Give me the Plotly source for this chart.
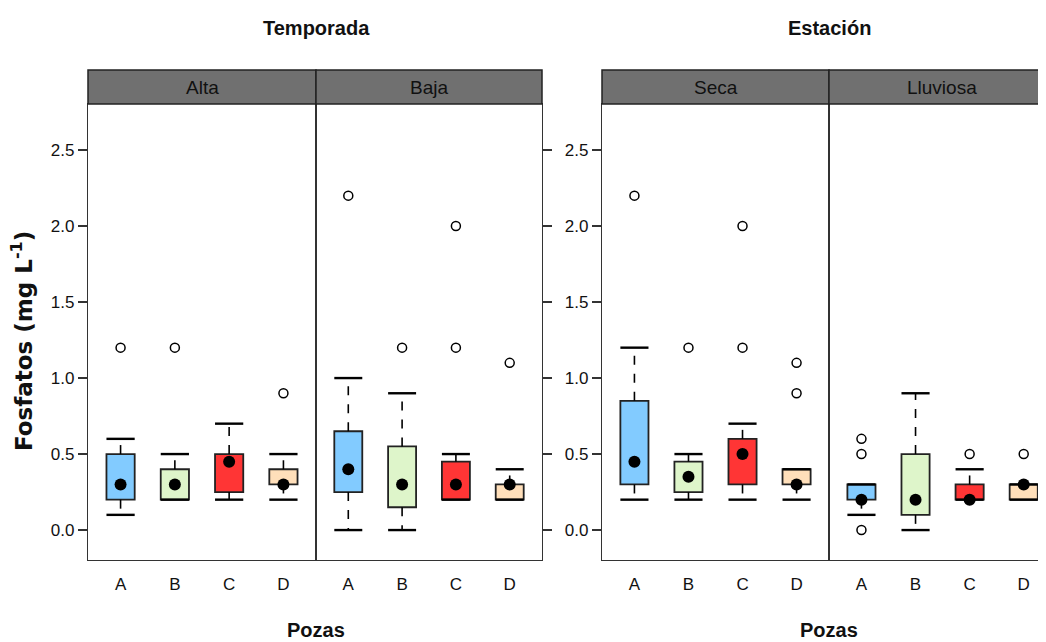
import plotly.graph_objects as go

# ---------------- data ----------------
pozas = ["A", "B", "C", "D"]
panels = ["Alta", "Baja", "Seca", "Lluviosa"]
group_titles = ["Temporada", "Estación"]
x_title = "Pozas"
y_title = "Fosfatos (mg L<sup>-1</sup>)"
y_ticks = [0.0, 0.5, 1.0, 1.5, 2.0, 2.5]

alta_q1 = [0.2, 0.2, 0.25, 0.3]
alta_med = [0.3, 0.3, 0.45, 0.3]
alta_q3 = [0.5, 0.4, 0.5, 0.4]
alta_lo = [0.1, 0.2, 0.2, 0.2]
alta_hi = [0.6, 0.5, 0.7, 0.5]
alta_out = [[1.2], [1.2], [], [0.9]]

baja_q1 = [0.25, 0.15, 0.2, 0.2]
baja_med = [0.4, 0.3, 0.3, 0.3]
baja_q3 = [0.65, 0.55, 0.45, 0.3]
baja_lo = [0.0, 0.0, 0.2, 0.2]
baja_hi = [1.0, 0.9, 0.5, 0.4]
baja_out = [[2.2], [1.2], [1.2, 2.0], [1.1]]

seca_q1 = [0.3, 0.25, 0.3, 0.3]
seca_med = [0.45, 0.35, 0.5, 0.3]
seca_q3 = [0.85, 0.45, 0.6, 0.4]
seca_lo = [0.2, 0.2, 0.2, 0.2]
seca_hi = [1.2, 0.5, 0.7, 0.4]
seca_out = [[2.2], [1.2], [1.2, 2.0], [0.9, 1.1]]

lluv_q1 = [0.2, 0.1, 0.2, 0.2]
lluv_med = [0.2, 0.2, 0.2, 0.3]
lluv_q3 = [0.3, 0.5, 0.3, 0.3]
lluv_lo = [0.1, 0.0, 0.2, 0.2]
lluv_hi = [0.3, 0.9, 0.4, 0.3]
lluv_out = [[0.0, 0.5, 0.6], [], [0.5], [0.5]]

box_colors = ["#82CBFF", "#DEF5CA", "#FF3535", "#FFDFBA"]

# ---------------- style ----------------
W, H = 1046, 642
OFF = 8  # page body margin
FONT = "Liberation Sans, Arial, sans-serif"
LINE = "#333333"
HALF = 0.26


def px(x):
    return (x - OFF) / W


def py(y):
    return (H - (y - OFF)) / H


x_doms = [(px(88), px(316)), (px(316), px(542)), (px(602), px(829)), (px(829), 1.0)]
x_ranges = [[0.4, 4.6], [0.4, 4.6], [0.4, 4.6], [0.4, 4.56]]
y_dom = [py(560), py(104)]
y_range = [-0.197, 2.803]
strip_top = py(70)

data = [
    (alta_q1, alta_med, alta_q3, alta_lo, alta_hi, alta_out),
    (baja_q1, baja_med, baja_q3, baja_lo, baja_hi, baja_out),
    (seca_q1, seca_med, seca_q3, seca_lo, seca_hi, seca_out),
    (lluv_q1, lluv_med, lluv_q3, lluv_lo, lluv_hi, lluv_out),
]

fig = go.Figure()
pos = list(range(1, len(pozas) + 1))

for i, (q1, med, q3, lo, hi, out) in enumerate(data):
    xa = "x" if i == 0 else f"x{i + 1}"
    ya = "y" if i == 0 else f"y{i + 1}"
    # boxes
    fig.add_trace(go.Bar(
        x=pos, y=[b - a for a, b in zip(q1, q3)], base=q1, width=2 * HALF,
        marker=dict(color=box_colors, line=dict(color="#222222", width=1.8)),
        xaxis=xa, yaxis=ya, showlegend=False, hoverinfo="skip"))
    # whiskers (dashed)
    wx, wy = [], []
    for p, a, b, l, h in zip(pos, q1, q3, lo, hi):
        wx += [p, p, None, p, p, None]
        wy += [b, h, None, a, l, None]
    fig.add_trace(go.Scatter(x=wx, y=wy, mode="lines",
                             line=dict(color="black", width=1.6, dash="dash"),
                             xaxis=xa, yaxis=ya, showlegend=False, hoverinfo="skip"))
    # caps
    cx, cy = [], []
    for p, l, h in zip(pos, lo, hi):
        cx += [p - HALF, p + HALF, None, p - HALF, p + HALF, None]
        cy += [h, h, None, l, l, None]
    fig.add_trace(go.Scatter(x=cx, y=cy, mode="lines",
                             line=dict(color="black", width=2.4),
                             xaxis=xa, yaxis=ya, showlegend=False, hoverinfo="skip"))
    # medians
    fig.add_trace(go.Scatter(x=pos, y=med, mode="markers",
                             marker=dict(color="black", size=12),
                             xaxis=xa, yaxis=ya, showlegend=False, hoverinfo="skip"))
    # outliers
    ox, oy = [], []
    for p, vals in zip(pos, out):
        for v in vals:
            ox.append(p)
            oy.append(v)
    fig.add_trace(go.Scatter(x=ox, y=oy, mode="markers",
                             marker=dict(symbol="circle-open", color="black", size=9,
                                         line=dict(width=1.5)),
                             xaxis=xa, yaxis=ya, showlegend=False, hoverinfo="skip"))

layout = dict(
    width=W, height=H, autosize=False,
    margin=dict(l=0, r=0, t=0, b=0, autoexpand=False),
    paper_bgcolor="white", plot_bgcolor="white",
    font=dict(family=FONT, size=17, color="#111111"),
    barmode="overlay",
    shapes=[], annotations=[],
)

for i in range(4):
    xk = "xaxis" if i == 0 else f"xaxis{i + 1}"
    yk = "yaxis" if i == 0 else f"yaxis{i + 1}"
    xa = "x" if i == 0 else f"x{i + 1}"
    ya = "y" if i == 0 else f"y{i + 1}"
    layout[xk] = dict(
        domain=list(x_doms[i]), range=x_ranges[i], anchor=ya,
        tickmode="array", tickvals=pos, ticktext=pozas,
        ticks="outside", ticklen=8, tickcolor="white",
        showline=True, mirror=True, linecolor=LINE, linewidth=1.3,
        showgrid=False, zeroline=False, fixedrange=True,
        tickfont=dict(family=FONT, size=17),
    )
    left = i in (0, 2)
    layout[yk] = dict(
        domain=list(y_dom), range=y_range, anchor=xa,
        side="left" if left else "right",
        tickmode="array", tickvals=y_ticks,
        ticktext=[f"{v:.1f}" for v in y_ticks],
        showticklabels=left,
        ticks="outside", ticklen=9, tickwidth=1.5, tickcolor=LINE,
        showline=True, mirror=True, linecolor=LINE, linewidth=1.3,
        showgrid=False, zeroline=False, fixedrange=True,
        tickfont=dict(family=FONT, size=17),
    )
    # strip
    layout["shapes"].append(dict(
        type="rect", xref="paper", yref="paper",
        x0=x_doms[i][0], x1=x_doms[i][1], y0=y_dom[1], y1=strip_top,
        fillcolor="#707070", line=dict(color="#222222", width=1.5), layer="above"))
    layout["annotations"].append(dict(
        xref="paper", yref="paper", x=(x_doms[i][0] + x_doms[i][1]) / 2,
        y=(y_dom[1] + strip_top) / 2, text=panels[i], showarrow=False,
        font=dict(family=FONT, size=19, color="#111111"),
        xanchor="center", yanchor="middle"))

# group titles and x titles
for g, cxp in enumerate([316, 829]):
    layout["annotations"].append(dict(
        xref="paper", yref="paper", x=px(cxp), y=py(28), text=f"<b>{group_titles[g]}</b>",
        showarrow=False, font=dict(family=FONT, size=20, color="#111111"),
        xanchor="center", yanchor="middle"))
    layout["annotations"].append(dict(
        xref="paper", yref="paper", x=px(cxp), y=py(630), text=f"<b>{x_title}</b>",
        showarrow=False, font=dict(family=FONT, size=20, color="#111111"),
        xanchor="center", yanchor="middle"))

layout["annotations"].append(dict(
    xref="paper", yref="paper", x=px(22), y=py(341), text=f"<b>{y_title}</b>",
    showarrow=False, textangle=-90, font=dict(family="DejaVu Sans", size=23, color="#111111"),
    xanchor="center", yanchor="middle"))

fig.update_layout(**layout)
fig.write_html("out.html")
